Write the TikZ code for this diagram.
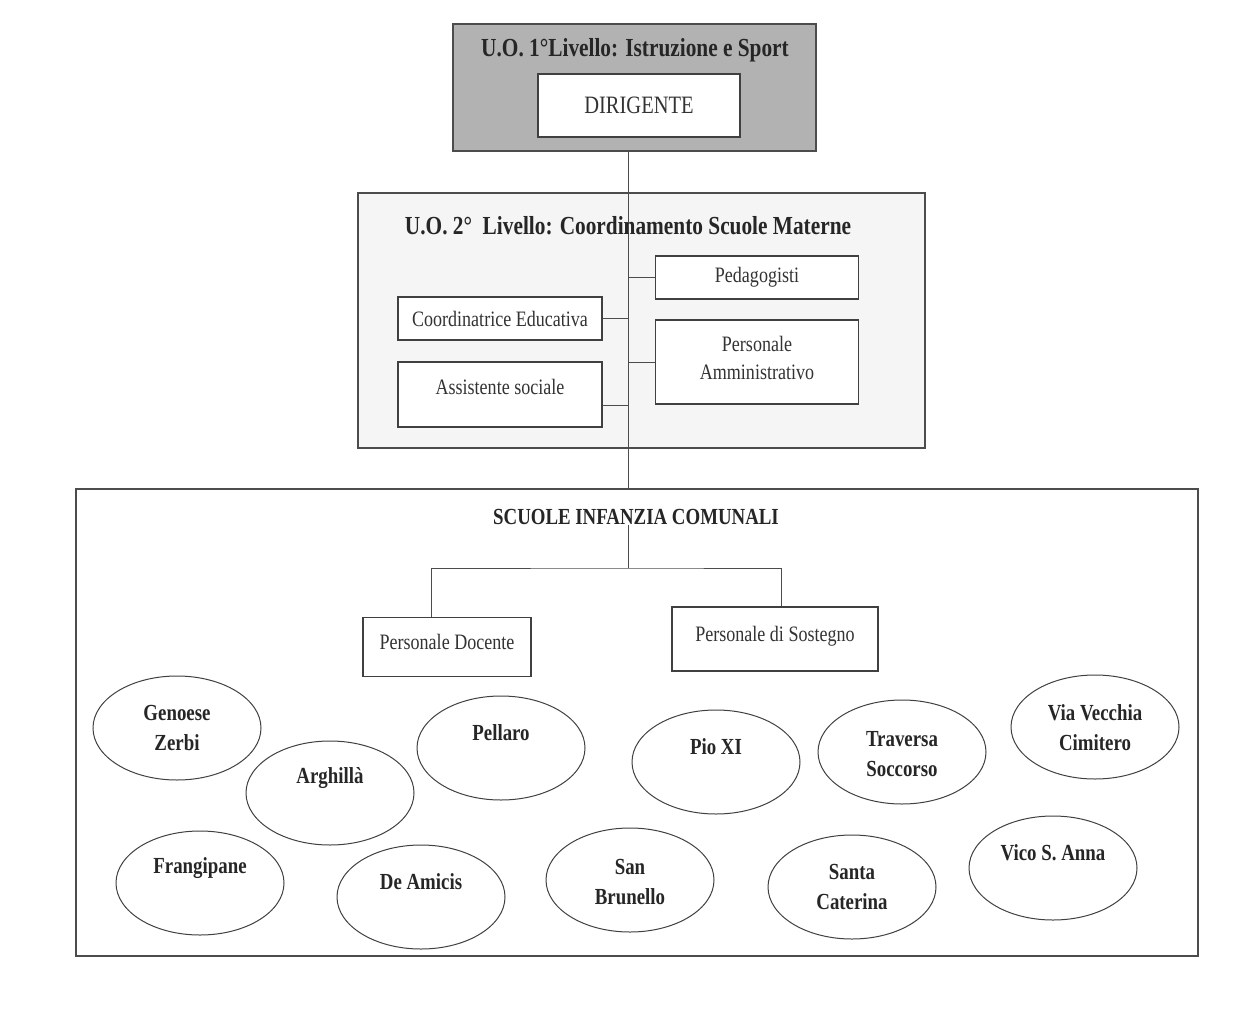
\documentclass[tikz,border=0pt]{standalone}
\usepackage{fontspec}
\setmainfont{Liberation Serif}[FakeStretch=0.82]
\usetikzlibrary{shapes.geometric}
\begin{document}
\begin{tikzpicture}[x=1pt,y=-1pt,
  frame/.style={draw=black!70, line width=1.2pt, rectangle, inner sep=0pt},
  wbox/.style={draw=black!75, line width=1.1pt, fill=white, rectangle, inner sep=0pt, align=center, font=\fontsize{22}{28}\selectfont, text=black!80},
  txt/.style={inner sep=0pt, align=center, font=\fontsize{22}{28}\selectfont, text=black!80},
  ttl/.style={inner sep=0pt, font=\bfseries\fontsize{26}{30}\selectfont, text=black!85},
  ell/.style={ellipse, draw=black!75, line width=1pt, fill=white, minimum width=168pt, minimum height=104pt, inner sep=0pt},
  etext/.style={inner sep=0pt, align=center, font=\bfseries\fontsize{23}{30}\selectfont, text=black!85},
  conn/.style={draw=black!70, line width=1pt}]
\useasboundingbox[fill=white] (0,0) rectangle (1257,1030);
\coordinate (cx) at (628,0);
\coordinate (xl) at (431,0);
\coordinate (xr) at (781,0);
% level 1
\node[frame, fill=black!30, minimum width=363pt, minimum height=127pt] (lev1) at (634.5,87.5) {};
\node[ttl] (lev1t) at (635,50) {U.O. 1°Livello: Istruzione e Sport};
\node[wbox, minimum width=202pt, minimum height=63pt, font=\fontsize{25}{30}\selectfont] (dir) at (639,105.5) {DIRIGENTE};
% level 2
\node[frame, fill=black!4, minimum width=567pt, minimum height=255pt] (lev2) at (641.5,320.5) {};
\node[frame, fill=white, minimum width=1122pt, minimum height=467pt] (lev3) at (637,722.5) {};
\draw[conn] (lev1.south -| cx) -- (lev3.north -| cx);
\node[ttl] (lev2t) at (628,226) {U.O. 2°\ \ Livello: Coordinamento Scuole Materne};
\node[wbox, minimum width=203pt, minimum height=43pt] (ped) at (757,277.5) {Pedagogisti};
\node[wbox, minimum width=204pt, minimum height=43pt] (coo) at (500,318.5) {Coordinatrice Educativa};
\node[wbox, minimum width=203pt, minimum height=84pt] (pam) at (757,362) {};
\node[txt] (pamt) at (757,358) {Personale\\Amministrativo};
\node[wbox, minimum width=204pt, minimum height=65pt] (ass) at (500,394.5) {};
\node[txt] (asst) at (500,387) {Assistente sociale};
\draw[conn] (ped.west) -- (ped.west -| cx);
\draw[conn] (coo.east) -- (coo.east -| cx);
\draw[conn] (pam.west) -- (pam.west -| cx);
\draw[conn] ([yshift=-10.5pt]ass.east) -- ([yshift=-10.5pt]ass.east -| cx);
% level 3
\node[ttl, font=\bfseries\fontsize{23}{28}\selectfont] (lev3t) at (636,517) {SCUOLE INFANZIA COMUNALI};
\node[wbox, minimum width=168pt, minimum height=59pt] (doc) at (447,647) {};
\node[txt] (doct) at (447,642) {Personale Docente};
\node[wbox, minimum width=206pt, minimum height=64pt] (sos) at (775,639) {};
\node[txt] (sost) at (775,636) {Personale di Sostegno};
\coordinate (j) at (628,568);
\draw[conn] (lev3t.south -| cx) -- (j);
\draw[conn] (doc.north -| xl) |- (j) -| (sos.north -| xr);
% schools
\node[ell] (e1) at (177,728) {};
\node[etext] (e1t) at (177,728) {Genoese\\Zerbi};
\node[ell] (e2) at (330,793) {};
\node[etext] (e2t) at (330,778) {Arghillà};
\node[ell] (e3) at (501,748) {};
\node[etext] (e3t) at (501,733) {Pellaro};
\node[ell] (e4) at (716,762) {};
\node[etext] (e4t) at (716,747) {Pio XI};
\node[ell] (e5) at (902,752) {};
\node[etext] (e5t) at (902,754) {Traversa\\Soccorso};
\node[ell] (e6) at (1095,727) {};
\node[etext] (e6t) at (1095,728) {Via Vecchia\\Cimitero};
\node[ell] (e7) at (200,883) {};
\node[etext] (e7t) at (200,868) {Frangipane};
\node[ell] (e8) at (421,897) {};
\node[etext] (e8t) at (421,882) {De Amicis};
\node[ell] (e9) at (630,880) {};
\node[etext] (e9t) at (630,882) {San\\Brunello};
\node[ell] (e10) at (852,887) {};
\node[etext] (e10t) at (852,887) {Santa\\Caterina};
\node[ell] (e11) at (1053,868) {};
\node[etext] (e11t) at (1053,853) {Vico S. Anna};
\end{tikzpicture}
\end{document}
